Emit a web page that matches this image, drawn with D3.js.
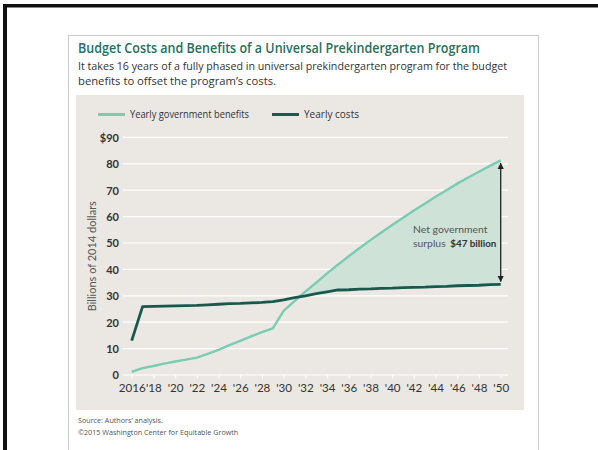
<!DOCTYPE html>
<html>
<head>
<meta charset="utf-8">
<script src="https://cdn.jsdelivr.net/npm/d3@7"></script>
<style>
  html, body { margin: 0; padding: 0; background: #fff; }
  svg { display: block; }
</style>
</head>
<body>
<svg id="chart" width="598" height="450"></svg>
<script>
// Fiscal years shown on the chart
const years = d3.range(2016, 2051);

// Yearly government benefits, billions of 2014 dollars
const benefits = [
  1.2, 2.6, 3.4, 4.3, 5.1, 5.8, 6.6, 8.0, 9.5, 11.3,
  12.9, 14.6, 16.2, 17.7, 24.3, 28.0, 31.6, 35.0, 38.5, 41.8,
  45.0, 48.1, 51.1, 54.0, 56.8, 59.6, 62.3, 64.9, 67.5, 70.0,
  72.5, 74.8, 77.0, 79.2, 81.3
];

// Yearly program costs, billions of 2014 dollars
const costs = [
  13.0, 25.9, 26.0, 26.1, 26.2, 26.3, 26.4, 26.6, 26.8, 27.0,
  27.1, 27.3, 27.5, 27.8, 28.5, 29.3, 30.0, 30.8, 31.5, 32.2,
  32.3, 32.5, 32.6, 32.8, 32.9, 33.1, 33.2, 33.3, 33.5, 33.6,
  33.8, 33.9, 34.0, 34.2, 34.3
];

// Axis ticks and labels
const yTicks = [0, 10, 20, 30, 40, 50, 60, 70, 80, 90];
const yTickLabels = ["0", "10", "20", "30", "40", "50", "60", "70", "80", "$90"];
const xTicks = d3.range(2016, 2051, 2);
const xTickLabels = ["2016", "'18", "'20", "'22", "'24", "'26", "'28", "'30", "'32",
  "'34", "'36", "'38", "'40", "'42", "'44", "'46", "'48", "'50"];

const seriesNames = ["Yearly government benefits", "Yearly costs"];
const surplusValue = 47;

const C = {
  benefits: "#79ccb2",
  costs: "#175a4d",
  fill: "#cee2d8",
  panel: "#ebe8e4",
  grid: "#ffffff",
  title: "#27705e",
  text: "#333333",
  soft: "#555555"
};

const svg = d3.select("#chart");

// page frame
svg.append("rect").attr("x", 3).attr("y", 4).attr("width", 600).attr("height", 3.5).attr("fill", "#111");
svg.append("rect").attr("x", 3).attr("y", 4).attr("width", 4).attr("height", 450).attr("fill", "#111");

// card
svg.append("rect").attr("x", 68.5).attr("y", 35.5).attr("width", 470).attr("height", 430)
  .attr("fill", "#fff").attr("stroke", "#cccccc").attr("stroke-width", 1);

// titles
function fitText(sel, width) {
  sel.attr("textLength", width).attr("lengthAdjust", "spacingAndGlyphs");
  return sel;
}
fitText(svg.append("text").attr("x", 78).attr("y", 53)
  .attr("font-family", "'Open Sans', sans-serif").attr("font-weight", 600)
  .attr("font-size", 14.2).attr("fill", C.title)
  .text("Budget Costs and Benefits of a Universal Prekindergarten Program"), 402);

const subLines = [
  "It takes 16 years of a fully phased in universal prekindergarten program for the budget",
  "benefits to offset the program\u2019s costs."
];
const subWidths = [429, 198];
subLines.forEach((s, i) => {
  fitText(svg.append("text").attr("x", 78).attr("y", 70 + i * 14.5)
    .attr("font-family", "'Open Sans', sans-serif").attr("font-size", 10.6)
    .attr("fill", C.text).text(s), subWidths[i]);
});

// chart panel
svg.append("rect").attr("x", 76).attr("y", 95).attr("width", 448).attr("height", 315)
  .attr("fill", C.panel);

// legend
const legend = [
  { name: seriesNames[0], color: C.benefits, x: 98, w: 119 },
  { name: seriesNames[1], color: C.costs, x: 272, w: 55 }
];
legend.forEach(d => {
  svg.append("line").attr("x1", d.x).attr("x2", d.x + 27).attr("y1", 114.5).attr("y2", 114.5)
    .attr("stroke", d.color).attr("stroke-width", 3);
  fitText(svg.append("text").attr("x", d.x + 32).attr("y", 118)
    .attr("font-family", "'Open Sans', sans-serif").attr("font-size", 10.2)
    .attr("fill", C.text).text(d.name), d.w);
});

// scales
const x = d3.scaleLinear().domain([2016, 2050]).range([131.7, 500.7]);
const y = d3.scaleLinear().domain([0, 90]).range([375, 137.4]);

// gridlines
svg.append("g").selectAll("line").data(yTicks).join("line")
  .attr("x1", 123).attr("x2", 508)
  .attr("y1", d => y(d)).attr("y2", d => y(d))
  .attr("stroke", C.grid).attr("stroke-width", 1.2);

// y axis labels
const yAxis = d3.axisLeft(y).tickValues(yTicks).tickSize(0).tickPadding(0)
  .tickFormat((d, i) => yTickLabels[i]);
const gy = svg.append("g").attr("transform", "translate(119,0)").call(yAxis);
gy.select(".domain").remove();
gy.selectAll("text").attr("font-family", "Lato, sans-serif").attr("font-weight", 700)
  .attr("font-size", 11).attr("fill", C.text).attr("dy", "0.35em");

// x axis
const xAxis = d3.axisBottom(x).tickValues(xTicks).tickSize(3.5).tickPadding(5)
  .tickFormat((d, i) => xTickLabels[i]);
const gx = svg.append("g").attr("transform", `translate(0,${y(0)})`).call(xAxis);
gx.select(".domain").remove();
gx.selectAll(".tick line").attr("stroke", C.grid).attr("stroke-width", 1.2);
gx.selectAll("text").attr("font-family", "Lato, sans-serif").attr("font-size", 11.6)
  .attr("fill", C.text);

// y axis title
svg.append("text")
  .attr("transform", `translate(96,${y(45)}) rotate(-90)`)
  .attr("text-anchor", "middle")
  .attr("font-family", "Lato, sans-serif").attr("font-size", 11).attr("fill", C.soft)
  .text("Billions of 2014 dollars");

// surplus area: where benefits exceed costs, starting at the crossover
const rows = years.map((yr, i) => ({ yr, b: benefits[i], c: costs[i] }));
const surplus = [];
for (let i = 1; i < rows.length; i++) {
  const p = rows[i - 1], q = rows[i];
  const dp = p.b - p.c, dq = q.b - q.c;
  if (dp < 0 && dq >= 0) {
    const t = -dp / (dq - dp);
    const v = p.c + t * (q.c - p.c);
    surplus.push({ yr: p.yr + t, b: v, c: v });
  }
  if (dq >= 0) surplus.push(q);
}
svg.append("path").datum(surplus)
  .attr("fill", C.fill)
  .attr("d", d3.area().x(d => x(d.yr)).y0(d => y(d.c)).y1(d => y(d.b)));

// series lines
const line = key => d3.line().x(d => x(d.yr)).y(d => y(d[key]));
svg.append("path").datum(rows).attr("fill", "none").attr("stroke", C.benefits)
  .attr("stroke-width", 2.4).attr("stroke-linejoin", "round").attr("d", line("b"));
svg.append("path").datum(rows).attr("fill", "none").attr("stroke", C.costs)
  .attr("stroke-width", 2.8).attr("stroke-linejoin", "round").attr("d", line("c"));

// surplus arrow at the final year
const last = rows[rows.length - 1];
const defs = svg.append("defs");
defs.append("marker").attr("id", "arrowhead").attr("viewBox", "0 0 10 10")
  .attr("refX", 9).attr("refY", 5).attr("markerWidth", 5).attr("markerHeight", 5)
  .attr("orient", "auto-start-reverse")
  .append("path").attr("d", "M0,0 L10,5 L0,10 Z").attr("fill", "#222");
svg.append("line")
  .attr("x1", x(last.yr)).attr("x2", x(last.yr))
  .attr("y1", y(last.b) + 3).attr("y2", y(last.c) - 3)
  .attr("stroke", "#222").attr("stroke-width", 1.3)
  .attr("marker-start", "url(#arrowhead)").attr("marker-end", "url(#arrowhead)");

// annotation
const ann = svg.append("text").attr("font-family", "Lato, sans-serif").attr("font-size", 10.4)
  .attr("fill", C.soft);
ann.append("tspan").attr("x", 413).attr("y", 233).text("Net government");
ann.append("tspan").attr("x", 413).attr("y", 246.5).text("surplus ");
ann.append("tspan").attr("dx", 2).attr("font-weight", 700).attr("fill", C.text)
  .attr("font-size", 9.8).text(`$${surplusValue} billion`);

// footer
const foot = ["Source: Authors\u2019 analysis.", "\u00a92015 Washington Center for Equitable Growth"];
foot.forEach((s, i) => {
  svg.append("text").attr("x", 78).attr("y", 422.5 + i * 12.5)
    .attr("font-family", "'Open Sans', sans-serif").attr("font-size", 7.2)
    .attr("fill", C.soft).text(s);
});
</script>
</body>
</html>
